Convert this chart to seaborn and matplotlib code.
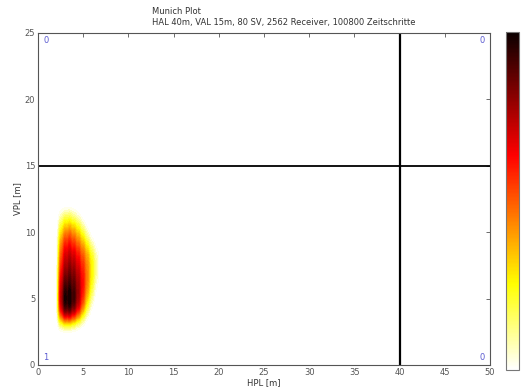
import numpy as np
import pandas as pd
import seaborn as sns
import matplotlib.pyplot as plt
from matplotlib.colors import Normalize
from matplotlib.cm import ScalarMappable

# -------------------------------
# Data
# -------------------------------
hpl_centers = [2.0, 2.5, 3.0, 3.5, 4.0, 4.5, 5.0, 5.5, 6.0, 6.5]
vpl_centers = [11.5, 11.0, 10.5, 10.0, 9.5, 9.0, 8.5, 8.0, 7.5, 7.0,
               6.5, 6.0, 5.5, 5.0, 4.5, 4.0, 3.5, 3.0]
density = [
    [0,  8, 16, 16, 10,  4,  0,  0,  0,  0],
    [0, 16, 26, 28, 22, 14,  4,  0,  0,  0],
    [0, 24, 36, 38, 34, 26, 14,  3,  0,  0],
    [0, 32, 46, 50, 44, 36, 24, 10,  0,  0],
    [0, 40, 55, 58, 52, 44, 34, 20,  6,  0],
    [0, 46, 62, 65, 60, 52, 42, 30, 16,  4],
    [0, 50, 68, 72, 67, 60, 50, 38, 24, 10],
    [0, 54, 72, 76, 72, 64, 54, 42, 28, 14],
    [0, 58, 76, 80, 76, 68, 58, 44, 30, 15],
    [0, 62, 80, 84, 80, 72, 60, 45, 30, 14],
    [0, 66, 85, 88, 84, 75, 62, 45, 28, 12],
    [0, 70, 90, 92, 87, 77, 62, 44, 25,  8],
    [0, 72, 95, 96, 90, 78, 60, 40, 20,  4],
    [0, 74, 98, 99, 92, 77, 56, 34, 14,  0],
    [0, 72, 96, 97, 88, 72, 50, 26,  8,  0],
    [0, 62, 86, 87, 76, 60, 38, 16,  2,  0],
    [0, 44, 62, 62, 52, 38, 20,  5,  0,  0],
    [0, 16, 24, 24, 18, 10,  3,  0,  0,  0],
]
hal = 40
val = 15
quadrant_counts = {"top_left": 0, "top_right": 0, "bottom_left": 1, "bottom_right": 0}
cbar_ticks = [0.10, 0.25, 0.40, 0.55, 0.69, 0.84]

title_lines = ["Munich Plot",
               "HAL 40m, VAL 15m, 80 SV, 2562 Receiver, 100800 Zeitschritte"]

# long-form table for seaborn
hh, vv = np.meshgrid(hpl_centers, vpl_centers)
df = pd.DataFrame({"HPL": hh.ravel(), "VPL": vv.ravel(),
                   "w": np.array(density, dtype=float).ravel()})
df = df[df["w"] > 0]

# -------------------------------
# Plot
# -------------------------------
sns.set_style("white")
plt.rcParams["font.family"] = ["DejaVu Sans"]

W, H = 522, 388
fig = plt.figure(figsize=(W / 100, H / 100), dpi=100)
ax = fig.add_axes([38 / W, 1 - 365 / H, (490 - 38) / W, (365 - 33) / H])
cax = fig.add_axes([506 / W, 1 - 370 / H, 13 / W, (370 - 32) / H])

sns.kdeplot(data=df, x="HPL", y="VPL", weights="w", fill=True,
            levels=60, thresh=0.02, cmap="hot_r", bw_adjust=0.5, ax=ax)

ax.axhline(val, color="black", lw=1.3)
ax.axvline(hal, color="black", lw=1.6)

ax.set_xlim(0, 50)
ax.set_ylim(0, 25)
ax.set_xticks(range(0, 51, 5))
ax.set_yticks(range(0, 26, 5))
ax.tick_params(direction="in", length=3, width=0.6, colors="#555555",
               labelsize=6, top=True, right=True, pad=2)
for s in ax.spines.values():
    s.set_color("#555555")
    s.set_linewidth(0.8)
ax.set_xlabel("HPL [m]", fontsize=6, color="#333333", labelpad=1)
ax.set_ylabel("VPL [m]", fontsize=6, color="#333333", labelpad=2)

blue = "#5a5ad0"
ax.text(0.012, 0.992, str(quadrant_counts["top_left"]), transform=ax.transAxes,
        ha="left", va="top", fontsize=6, color=blue)
ax.text(0.988, 0.992, str(quadrant_counts["top_right"]), transform=ax.transAxes,
        ha="right", va="top", fontsize=6, color=blue)
ax.text(0.012, 0.008, str(quadrant_counts["bottom_left"]), transform=ax.transAxes,
        ha="left", va="bottom", fontsize=6, color=blue)
ax.text(0.988, 0.008, str(quadrant_counts["bottom_right"]), transform=ax.transAxes,
        ha="right", va="bottom", fontsize=6, color=blue)

fig.text(152 / W, 1 - 11 / H, title_lines[0], fontsize=6, color="#333333",
         ha="left", va="center")
fig.text(152 / W, 1 - 23 / H, title_lines[1], fontsize=6, color="#333333",
         ha="left", va="center")

sm = ScalarMappable(norm=Normalize(0, 1), cmap="hot_r")
cb = fig.colorbar(sm, cax=cax, ticks=cbar_ticks)
cb.outline.set_edgecolor("#777777")
cb.outline.set_linewidth(0.8)
cax.tick_params(direction="in", length=2, width=0.6, colors="#555555",
                left=True, right=True, labelright=False, labelleft=False)

fig.savefig("out.png", dpi=100)
